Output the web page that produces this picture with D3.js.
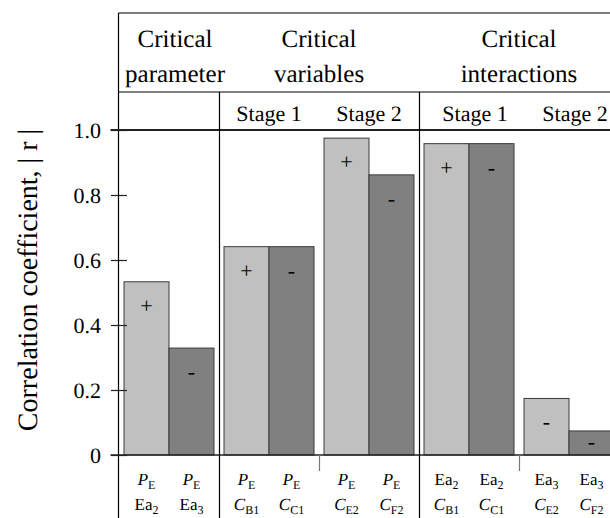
<!DOCTYPE html>
<html>
<head>
<meta charset="utf-8">
<script src="https://cdn.jsdelivr.net/npm/d3@7/dist/d3.min.js"></script>
<style>
  body { margin: 0; background: #fff; }
  svg text { font-family: "Liberation Serif", "Times New Roman", Times, serif; text-rendering: geometricPrecision; }
</style>
</head>
<body>
<svg id="chart" width="610" height="518"></svg>
<script>
// Bar pairs (light = first bar of each pair, dark = second)
const pairs = ["p1", "p2", "p3", "p4", "p5"];
const pairGroup = [0, 1, 1, 2, 2];
const groupNames = [["Critical", "parameter"], ["Critical", "variables"], ["Critical", "interactions"]];
const stageNames = ["", "Stage 1", "Stage 2", "Stage 1", "Stage 2"];

// |r| values
const lightValues = [0.533, 0.641, 0.975, 0.958, 0.174];
const darkValues  = [0.329, 0.641, 0.862, 0.958, 0.074];
// sign of the correlation
const lightSigns = ["+", "+", "+", "+", "-"];
const darkSigns  = ["-", "-", "-", "-", "-"];

// Category labels, two lines per bar: [symbol, subscript, italic symbol]
const labelTop = [
  ["P", "E", true], ["P", "E", true],
  ["P", "E", true], ["P", "E", true], ["P", "E", true], ["P", "E", true],
  ["Ea", "2", false], ["Ea", "2", false], ["Ea", "3", false], ["Ea", "3", false]
];
const labelBottom = [
  ["Ea", "2", false], ["Ea", "3", false],
  ["C", "B1", true], ["C", "C1", true], ["C", "E2", true], ["C", "F2", true],
  ["C", "B1", true], ["C", "C1", true], ["C", "E2", true], ["C", "F2", true]
];

const yTicks = [0, 0.2, 0.4, 0.6, 0.8, 1.0];
const yTickLabels = ["0", "0.2", "0.4", "0.6", "0.8", "1.0"];
const yTitle = "Correlation coefficient, | r |";

const FONT = '"Liberation Serif", "Times New Roman", Times, serif';
const W = 610, H = 518;
const svg = d3.select("#chart").attr("font-family", FONT).attr("text-rendering", "geometricPrecision");

const x0 = d3.scaleBand().domain(pairs).range([119, 619]).paddingInner(0.1).paddingOuter(0.05);
const x1 = d3.scaleBand().domain(["light", "dark"]).range([0, x0.bandwidth()]);
const y = d3.scaleLinear().domain([0, 1]).range([455, 130]);

const halfGap = x0.step() * x0.paddingInner() / 2;
const slotLeft = p => x0(p) - halfGap;
const frameLeft = slotLeft(pairs[0]) - 0.5;
const frameTop = 13, headerLine = 92;

// Flatten bars
const bars = [];
pairs.forEach((p, i) => {
  bars.push({ pair: p, kind: "light", value: lightValues[i], sign: lightSigns[i] });
  bars.push({ pair: p, kind: "dark", value: darkValues[i], sign: darkSigns[i] });
});

// Bars
svg.append("g").selectAll("rect").data(bars).join("rect")
  .attr("x", d => x0(d.pair) + x1(d.kind))
  .attr("y", d => y(d.value))
  .attr("width", x1.bandwidth())
  .attr("height", d => y(0) - y(d.value))
  .attr("fill", d => d.kind === "light" ? "#c0c0c0" : "#808080")
  .attr("stroke", "#3a3a3a")
  .attr("stroke-width", 1);

// Sign markers inside bars (kept inside short bars)
svg.append("g").selectAll("text").data(bars).join("text")
  .attr("x", d => x0(d.pair) + x1(d.kind) + x1.bandwidth() / 2)
  .attr("y", d => {
    const top = y(d.value), mid = (y(d.value) + y(0)) / 2;
    return Math.min(top + 25, mid) + 6;
  })
  .attr("text-anchor", "middle")
  .attr("font-size", 22)
  .text(d => d.sign);

// Y axis ticks and labels
const yAxis = d3.axisLeft(y).tickValues(yTicks)
  .tickFormat((d, i) => yTickLabels[i]).tickSize(16).tickPadding(10);
const gy = svg.append("g").attr("transform", `translate(${frameLeft + 8.5},0)`).call(yAxis)
  .attr("font-family", FONT).attr("font-size", 22);
gy.select(".domain").remove();
gy.selectAll(".tick line").attr("stroke", "#222").attr("stroke-width", 1.2);
gy.selectAll(".tick text").attr("fill", "#000");

// Frame and separators
const lines = svg.append("g").attr("stroke", "#000").attr("fill", "none");
lines.append("line").attr("x1", frameLeft).attr("x2", W + 10).attr("y1", frameTop).attr("y2", frameTop).attr("stroke-width", 1.2);
lines.append("line").attr("x1", frameLeft).attr("x2", frameLeft).attr("y1", frameTop).attr("y2", H).attr("stroke-width", 1.2);
lines.append("line").attr("x1", frameLeft).attr("x2", W + 10).attr("y1", headerLine).attr("y2", headerLine).attr("stroke-width", 1.2);
lines.append("line").attr("x1", frameLeft - 8).attr("x2", W + 10).attr("y1", y(1)).attr("y2", y(1)).attr("stroke-width", 2).attr("stroke", "#222");
lines.append("line").attr("x1", frameLeft - 8).attr("x2", W + 10).attr("y1", y(0)).attr("y2", y(0)).attr("stroke-width", 1.5).attr("stroke", "#222");

// Group separators (full height below the header line) and stage ticks
pairs.forEach((p, i) => {
  if (i === 0) return;
  const xs = Math.round(slotLeft(p)) + 0.5;
  if (pairGroup[i] !== pairGroup[i - 1]) {
    lines.append("line").attr("x1", xs).attr("x2", xs).attr("y1", headerLine).attr("y2", H).attr("stroke-width", 1.2);
  } else {
    lines.append("line").attr("x1", xs).attr("x2", xs).attr("y1", y(0)).attr("y2", y(0) + 16)
      .attr("stroke", "#777").attr("stroke-width", 1.2);
  }
});

// Group headers
const groupExtent = groupNames.map((g, gi) => {
  const idx = pairs.filter((p, i) => pairGroup[i] === gi);
  const left = slotLeft(idx[0]);
  const right = slotLeft(idx[idx.length - 1]) + x0.step();
  return { left, right, lines: g, gi };
});
const hdr = svg.append("g");
groupExtent.forEach(g => {
  const cx = (g.left + g.right) / 2 + (g.gi === 0 ? 6 : 0);
  g.lines.forEach((t, k) => {
    hdr.append("text").attr("x", cx).attr("y", 47 + k * 35)
      .attr("text-anchor", "middle").attr("font-size", 25).text(t);
  });
});

// Stage labels
svg.append("g").selectAll("text").data(pairs).join("text")
  .attr("x", (p, i) => x0(p) + x0.bandwidth() / 2 + (pairGroup[i] === 2 ? 6 : 0))
  .attr("y", 121)
  .attr("text-anchor", "middle")
  .attr("font-size", 22)
  .text((p, i) => stageNames[i]);

// Category labels (two lines, with subscripts)
function drawLabel(sel, lab) {
  const t = sel.append("tspan").text(lab[0]);
  if (lab[2]) t.attr("font-style", "italic");
  sel.append("tspan").attr("dy", 4).attr("font-size", 12).text(lab[1]);
}
const cat = svg.append("g");
bars.forEach((b, i) => {
  const cx = x0(b.pair) + x1(b.kind) + x1.bandwidth() / 2;
  drawLabel(cat.append("text").attr("x", cx).attr("y", 485).attr("text-anchor", "middle")
    .attr("font-size", 17), labelTop[i]);
  drawLabel(cat.append("text").attr("x", cx).attr("y", 510).attr("text-anchor", "middle")
    .attr("font-size", 17), labelBottom[i]);
});

// Y axis title
svg.append("text")
  .attr("transform", "translate(37,280) rotate(-90)")
  .attr("text-anchor", "middle")
  .attr("font-size", 28)
  .text(yTitle);
</script>
</body>
</html>
